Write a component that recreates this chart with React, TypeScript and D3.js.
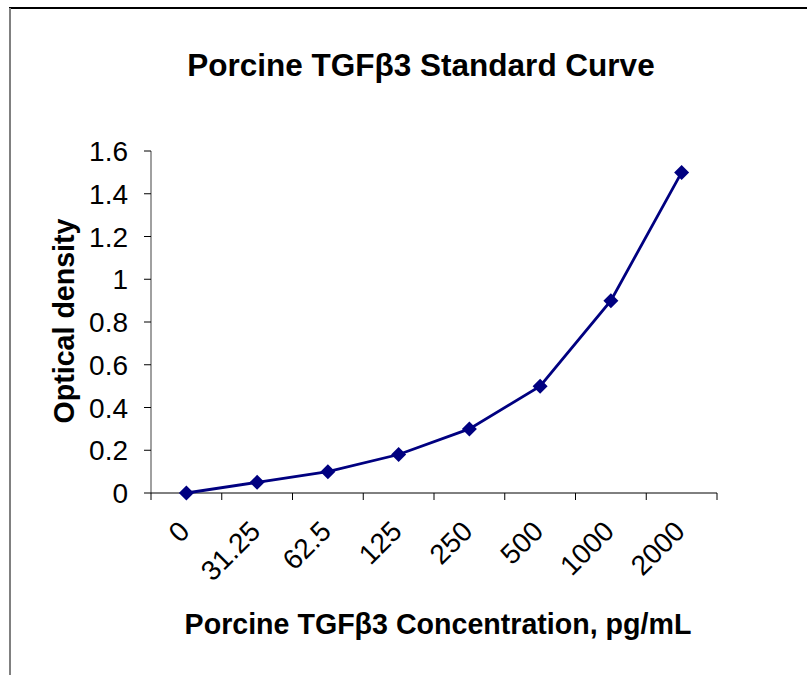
import React from "react";
import * as d3 from "d3";

const categories = ["0", "31.25", "62.5", "125", "250", "500", "1000", "2000"];
const values = [0, 0.05, 0.1, 0.18, 0.3, 0.5, 0.9, 1.5];
const yTicks = [0, 0.2, 0.4, 0.6, 0.8, 1, 1.2, 1.4, 1.6];
const title = "Porcine TGFβ3 Standard Curve";
const xTitle = "Porcine TGFβ3 Concentration, pg/mL";
const yTitle = "Optical density";

export default function App() {
  const W = 807, H = 675;
  const left = 151, right = 717, top = 151, bottom = 493;
  const x = d3.scaleBand<string>().domain(categories).range([left, right]);
  const y = d3.scaleLinear().domain([0, 1.6]).range([bottom, top]);
  const line = d3.line<number>()
    .x((_, i) => (x(categories[i]) as number) + x.bandwidth() / 2)
    .y((d) => y(d));
  const font = "Liberation Sans, Arial, sans-serif";
  const edges = categories.map((c) => x(c) as number).concat([right]);
  return (
    <svg width={W} height={H} style={{ position: "absolute", left: 0, top: 0 }} fontFamily={font}>
      <rect x={0} y={0} width={W} height={H} fill="#fff" />
      <line x1={9} y1={8} x2={W} y2={8} stroke="#000" strokeWidth={2} />
      <line x1={10} y1={8} x2={10} y2={H} stroke="#808080" strokeWidth={2} />
      <text x={421} y={76} textAnchor="middle" fontSize={31.5} fontWeight="bold">{title}</text>
      {/* y axis */}
      <line x1={left} y1={top} x2={left} y2={bottom} stroke="#808080" strokeWidth={1.5} />
      {yTicks.map((t) => (
        <g key={t}>
          <line x1={left - 7} x2={left} y1={y(t)} y2={y(t)} stroke="#000" strokeWidth={1} />
          <text x={128} y={y(t)} dy="0.36em" textAnchor="end" fontSize={28}>{t}</text>
        </g>
      ))}
      {/* x axis */}
      <line x1={left} y1={bottom} x2={right} y2={bottom} stroke="#000" strokeWidth={1} />
      {edges.map((e, i) => (
        <line key={i} x1={e} x2={e} y1={bottom} y2={bottom + 7} stroke="#000" strokeWidth={1} />
      ))}
      {categories.map((c) => {
        const cx = (x(c) as number) + x.bandwidth() / 2;
        return (
          <text key={c} transform={`translate(${cx + 5},${533}) rotate(-45)`} textAnchor="end" fontSize={28}>{c}</text>
        );
      })}
      <text x={438} y={634} textAnchor="middle" fontSize={28.6} fontWeight="bold">{xTitle}</text>
      <text transform={`translate(74,${321}) rotate(-90)`} textAnchor="middle" fontSize={28.6} fontWeight="bold">{yTitle}</text>
      <path d={line(values) as string} fill="none" stroke="#000080" strokeWidth={2.8} />
      {values.map((v, i) => {
        const cx = (x(categories[i]) as number) + x.bandwidth() / 2;
        const cy = y(v);
        const s = 7.5;
        return <path key={i} d={`M${cx},${cy - s}L${cx + s},${cy}L${cx},${cy + s}L${cx - s},${cy}Z`} fill="#000080" />;
      })}
    </svg>
  );
}
